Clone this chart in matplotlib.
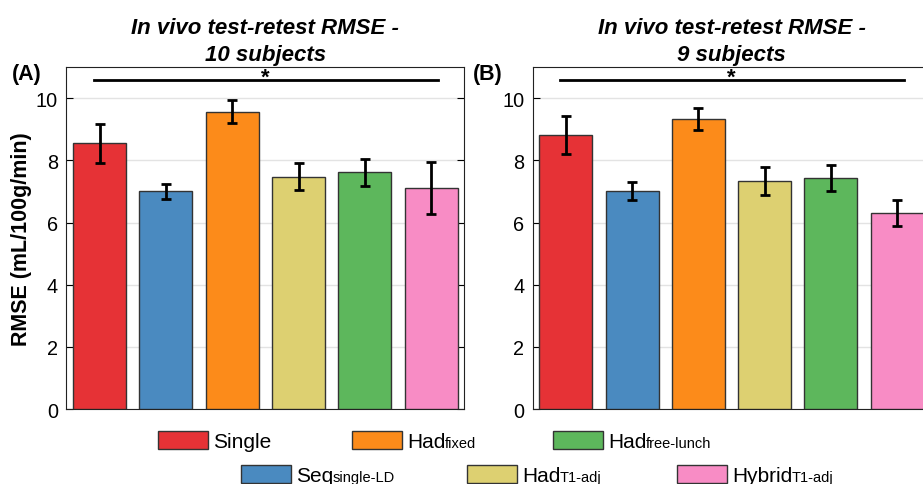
import matplotlib
matplotlib.use('Agg')
import matplotlib.pyplot as plt
from matplotlib.patches import Patch
import numpy as np

plt.rcParams['font.family'] = ['Liberation Sans', 'DejaVu Sans']

# methods, in bar order (base name + subscript)
methods = ['Single', 'Seq', 'Had', 'Had', 'Had', 'Hybrid']
subscripts = ['', 'single-LD', 'fixed', 'T1-adj', 'free-lunch', 'T1-adj']
colors = ['#E63236', '#4A8AC0', '#FC8B1A', '#DDD071', '#5DB75C', '#F88CC5']

# mean RMSE and error per method
rmse_10 = [8.55, 7.00, 9.57, 7.48, 7.61, 7.12]
err_10 = [0.63, 0.24, 0.38, 0.43, 0.43, 0.84]
rmse_9 = [8.82, 7.02, 9.33, 7.33, 7.42, 6.31]
err_9 = [0.60, 0.28, 0.35, 0.44, 0.42, 0.42]

titles = ['In vivo test-retest RMSE -\n10 subjects', 'In vivo test-retest RMSE -\n9 subjects']
panel_tags = ['(A)', '(B)']
tag_offsets = [-0.137, -0.150]
sig_level = 10.58

W, H = 923, 485
fig = plt.figure(figsize=(W / 100, H / 100), dpi=100)
ax_a = fig.add_axes([0.072, 0.1546, 0.431, 0.705])
ax_b = fig.add_axes([0.577, 0.1546, 0.431, 0.705])

x = np.arange(1, len(methods) + 1)
for ax, vals, errs, title, tag, toff in zip([ax_a, ax_b], [rmse_10, rmse_9], [err_10, err_9],
                                            titles, panel_tags, tag_offsets):
    ax.bar(x, vals, width=0.8, color=colors, edgecolor='#333333', linewidth=1.0, zorder=3)
    ax.errorbar(x, vals, yerr=errs, fmt='none', ecolor='black', elinewidth=2,
                capsize=3.5, capthick=2, zorder=4)
    ax.set_xlim(0.5, 6.5)
    ax.set_ylim(0, 11)
    ax.set_yticks([0, 2, 4, 6, 8, 10])
    ax.set_xticks([])
    ax.yaxis.grid(True, color='#E3E3E3', linewidth=1.0, zorder=0)
    ax.tick_params(axis='y', direction='in', right=True, labelsize=14.3, length=5, width=0.8, pad=6)
    for s in ax.spines.values():
        s.set_linewidth(0.8)
        s.set_color('#222222')
    ax.set_title(title, fontsize=16, fontweight='bold', fontstyle='italic', pad=5, linespacing=1.4)
    # significance bar
    ax.plot([0.92, 6.1], [sig_level, sig_level], color='black', linewidth=2, zorder=5)
    ax.text(3.5, sig_level - 0.08, '*', ha='center', va='baseline', fontsize=16, fontweight='bold')
    ax.text(toff, 0.982, tag, transform=ax.transAxes, ha='left', va='center',
            fontsize=15.5, fontweight='bold')

ax_a.set_ylabel('RMSE (mL/100g/min)', fontsize=15.5, fontweight='bold', labelpad=3)

# legend: one entry per box, two staggered rows
legend_x = [158, 241, 352, 467, 553, 677]
legend_y = [442, 476, 442, 476, 442, 476]
leg_fs = 15
sub_fs = 10.5
legends = []
for i in range(len(methods)):
    h = Patch(facecolor=colors[i], edgecolor='#333333', linewidth=1.0)
    leg = fig.legend([h], [methods[i]], loc='center left', frameon=False, fontsize=leg_fs,
                     handlelength=2.4, handleheight=0.95, handletextpad=0.25,
                     borderpad=0, borderaxespad=0,
                     bbox_to_anchor=(legend_x[i] / W, 1 - legend_y[i] / H))
    legends.append(leg)

fig.canvas.draw()
renderer = fig.canvas.get_renderer()
for leg, sub in zip(legends, subscripts):
    if not sub:
        continue
    bb = leg.get_texts()[0].get_window_extent(renderer)
    baseline = bb.y0 + 0.21 * leg_fs * 100 / 72 - 0.5
    fig.text((bb.x1 - 0.5) / W, baseline / H, sub, fontsize=sub_fs, ha='left', va='baseline')

fig.savefig('out.png', dpi=100)
